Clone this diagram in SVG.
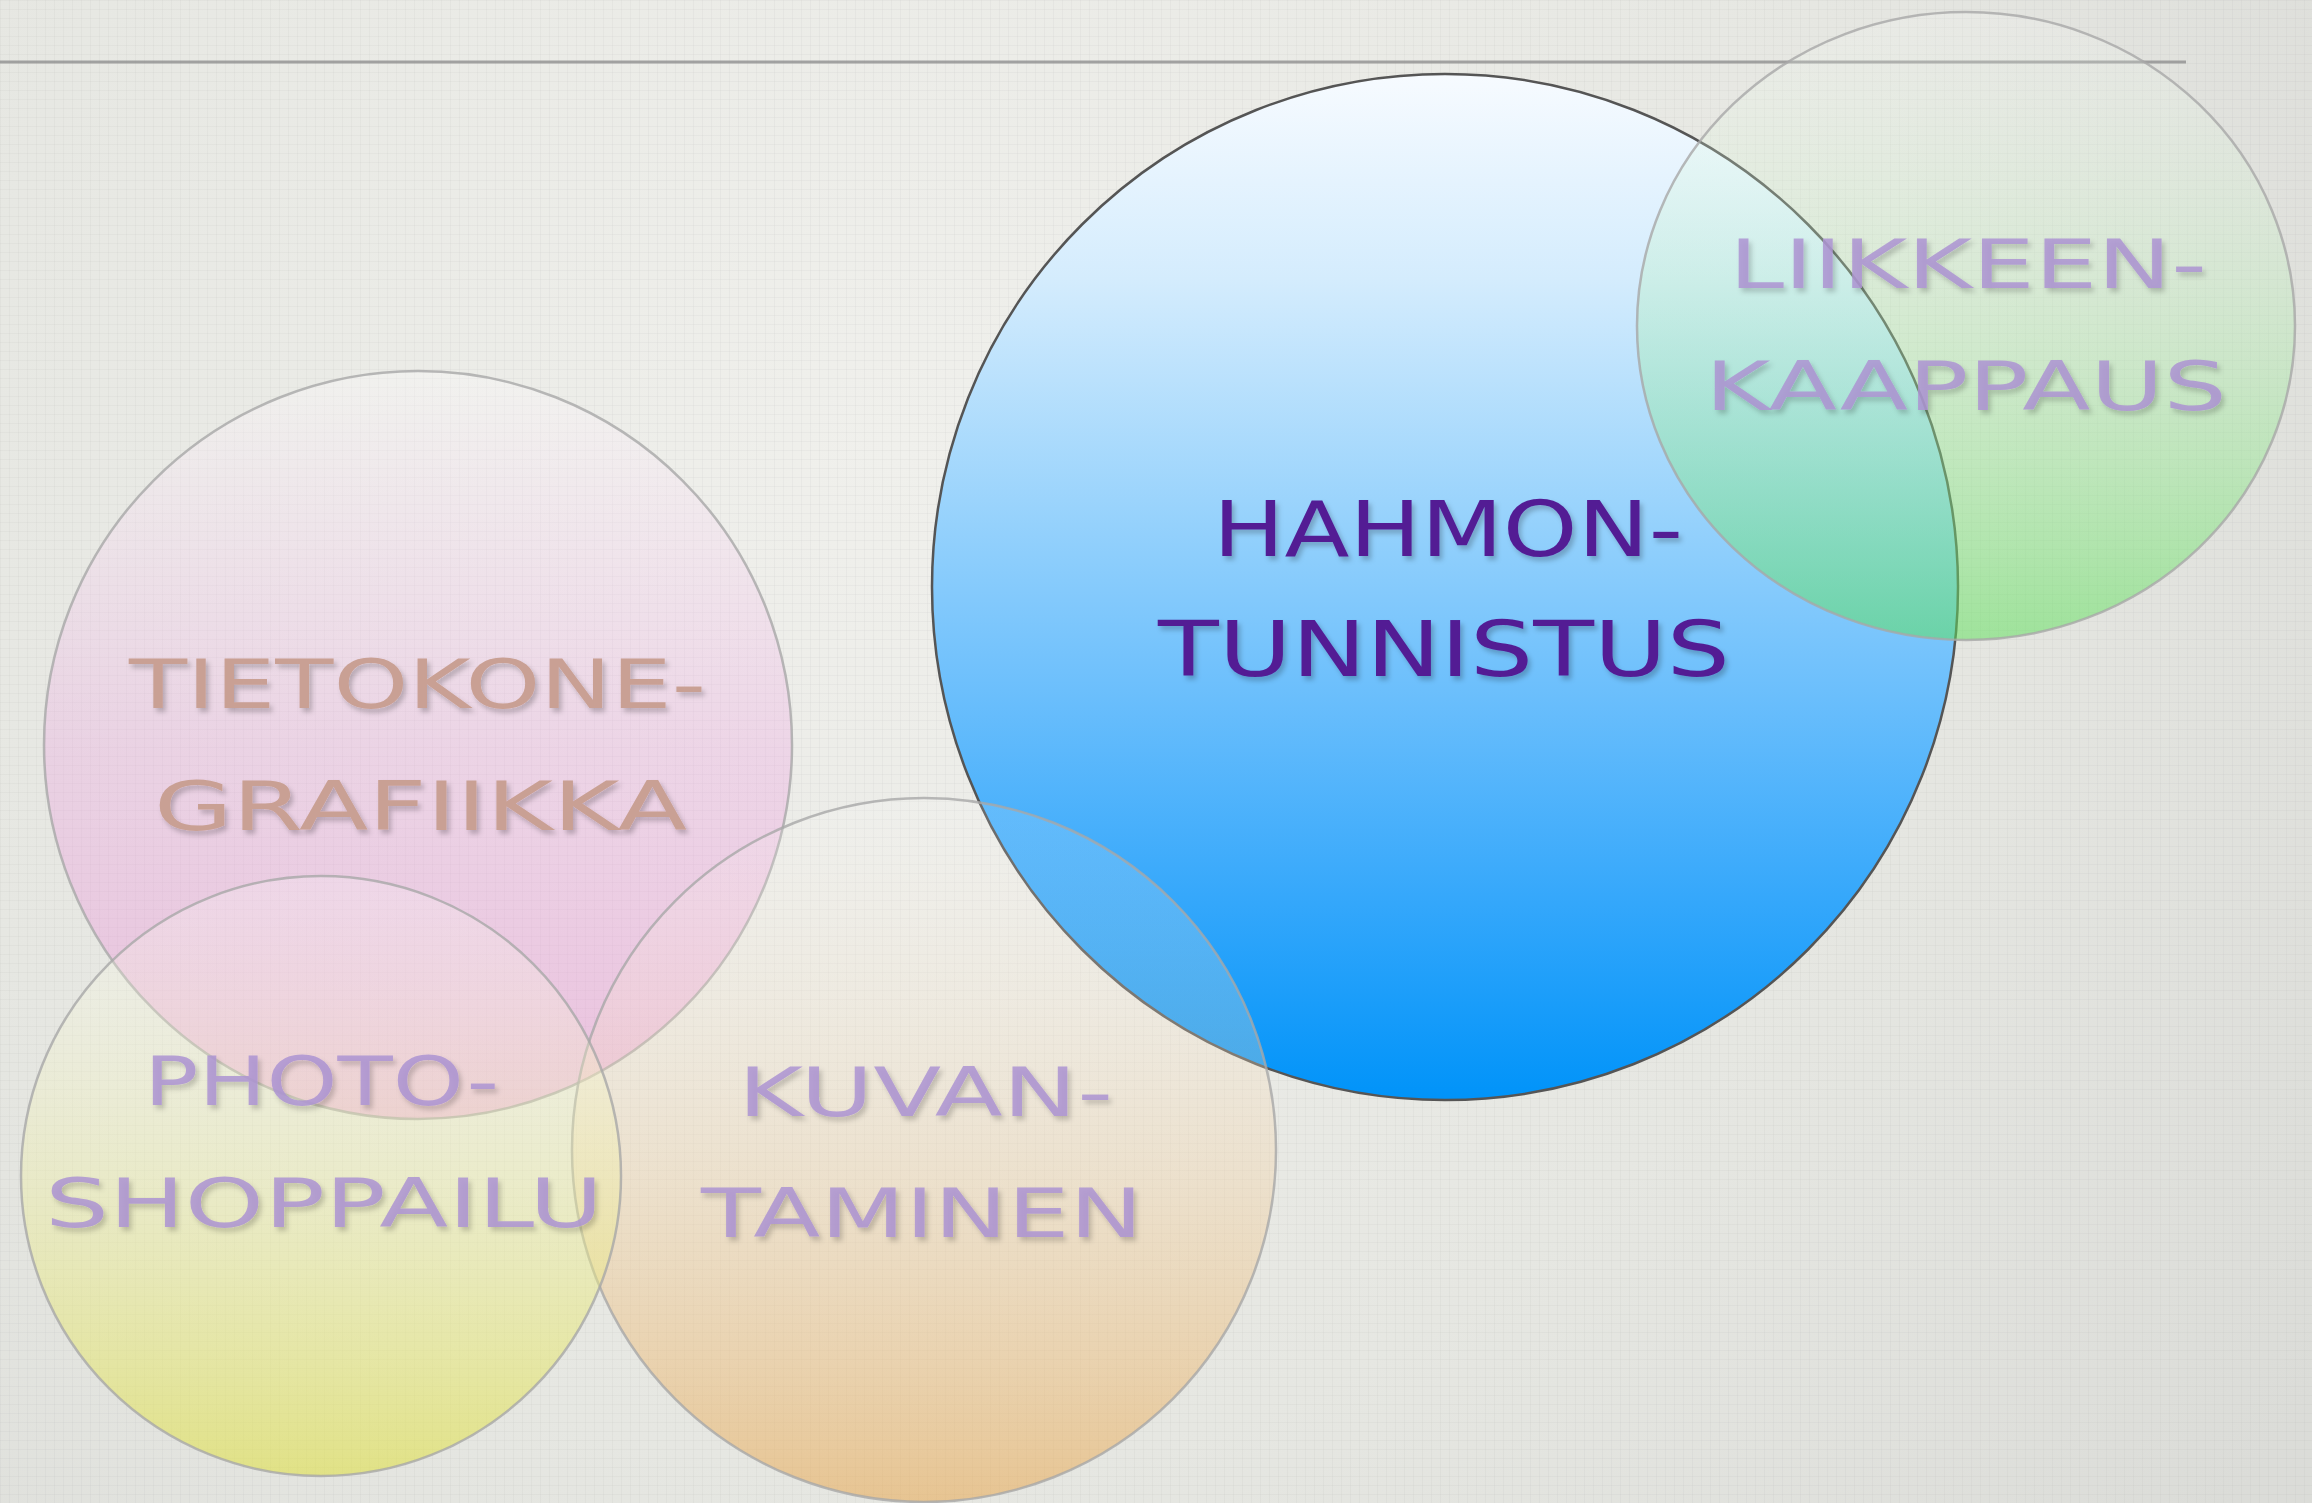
<svg xmlns="http://www.w3.org/2000/svg" width="2312" height="1503" viewBox="0 0 2312 1503">
  <defs>
    <radialGradient id="bgGrad" cx="900" cy="450" r="1700" gradientUnits="userSpaceOnUse">
      <stop offset="0" stop-color="#f0f0ec"/>
      <stop offset="0.6" stop-color="#e6e7e2"/>
      <stop offset="1" stop-color="#dbdcd8"/>
    </radialGradient>
    <pattern id="grid" width="9" height="9" patternUnits="userSpaceOnUse">
      <path d="M0 0.5 H9 M0.5 0 V9" stroke="#9a9c94" stroke-width="1" opacity="0.08" fill="none"/>
    </pattern>
    <linearGradient id="blueGrad" x1="0" y1="0" x2="0" y2="1">
      <stop offset="0" stop-color="#f7fbff"/>
      <stop offset="0.2" stop-color="#d4ecfd"/>
      <stop offset="0.45" stop-color="#92d0fc"/>
      <stop offset="0.6" stop-color="#6cbffc"/>
      <stop offset="0.8" stop-color="#36a8fb"/>
      <stop offset="1" stop-color="#0093f9"/>
    </linearGradient>
    <linearGradient id="greenGrad" x1="0" y1="0" x2="0" y2="1">
      <stop offset="0" stop-color="#ffffff" stop-opacity="0.15"/>
      <stop offset="1" stop-color="#5ee05a" stop-opacity="0.52"/>
    </linearGradient>
    <linearGradient id="pinkGrad" x1="0" y1="0" x2="0" y2="1">
      <stop offset="0" stop-color="#ffffff" stop-opacity="0.3"/>
      <stop offset="0.5" stop-color="#ee9ee2" stop-opacity="0.3"/>
      <stop offset="1" stop-color="#ec88d4" stop-opacity="0.42"/>
    </linearGradient>
    <linearGradient id="yellowGrad" x1="0" y1="0" x2="0" y2="1">
      <stop offset="0" stop-color="#ffffff" stop-opacity="0.2"/>
      <stop offset="1" stop-color="#dfe04a" stop-opacity="0.6"/>
    </linearGradient>
    <linearGradient id="orangeGrad" x1="0" y1="0" x2="0" y2="1">
      <stop offset="0" stop-color="#ffffff" stop-opacity="0.12"/>
      <stop offset="1" stop-color="#e8a850" stop-opacity="0.55"/>
    </linearGradient>
    <filter id="shadow" x="-10%" y="-30%" width="120%" height="160%">
      <feDropShadow dx="3" dy="4" stdDeviation="2.5" flood-color="#000000" flood-opacity="0.22"/>
    </filter>
  </defs>
  <style>
    .light { stroke: #a8a8a8; stroke-width: 2.5; stroke-opacity: 0.8; }
    .lbl { font-family: "DejaVu Sans", "Liberation Sans", sans-serif; filter: url(#shadow); }
    .big { font-size: 76px; fill: #521c94; }
    .small { font-size: 68px; }
    .rose { fill: #c9a094; }
    .lav { fill: #ad94d2; fill-opacity: 0.85; }
  </style>

  <rect x="0" y="0" width="2312" height="1503" fill="url(#bgGrad)"/>
  <rect x="0" y="0" width="2312" height="1503" fill="url(#grid)"/>
  <line x1="0" y1="62" x2="2186" y2="62" stroke="#8e8e8e" stroke-width="3" stroke-opacity="0.8"/>

  <g id="node-tietokonegrafiikka">
    <circle cx="418" cy="745" r="374" fill="url(#pinkGrad)" class="light"/>
  </g>
  <g id="node-hahmontunnistus">
    <circle cx="1445" cy="587" r="513" fill="url(#blueGrad)" stroke="#555555" stroke-width="2.5"/>
  </g>
  <g id="node-kuvantaminen">
    <circle cx="924" cy="1150" r="352" fill="url(#orangeGrad)" class="light"/>
  </g>
  <g id="node-photoshoppailu">
    <circle cx="321" cy="1176" r="300" fill="url(#yellowGrad)" class="light"/>
  </g>
  <g id="node-liikkeenkaappaus">
    <ellipse cx="1966" cy="326" rx="329" ry="314" fill="url(#greenGrad)" class="light"/>
  </g>

  <g id="labels">
    <text class="lbl big" x="1213" y="556" textLength="470" lengthAdjust="spacingAndGlyphs">HAHMON-</text>
    <text class="lbl big" x="1158" y="676" textLength="572" lengthAdjust="spacingAndGlyphs">TUNNISTUS</text>
    <text class="lbl small lav" x="1729" y="288" textLength="478" lengthAdjust="spacingAndGlyphs">LIIKKEEN-</text>
    <text class="lbl small lav" x="1705" y="410" textLength="522" lengthAdjust="spacingAndGlyphs">KAAPPAUS</text>
    <text class="lbl small rose" x="129" y="708" textLength="577" lengthAdjust="spacingAndGlyphs">TIETOKONE-</text>
    <text class="lbl small rose" x="154" y="830" textLength="533" lengthAdjust="spacingAndGlyphs">GRAFIIKKA</text>
    <text class="lbl small lav" x="144" y="1105" textLength="355" lengthAdjust="spacingAndGlyphs">PHOTO-</text>
    <text class="lbl small lav" x="45" y="1227" textLength="558" lengthAdjust="spacingAndGlyphs">SHOPPAILU</text>
    <text class="lbl small lav" x="738" y="1116" textLength="375" lengthAdjust="spacingAndGlyphs">KUVAN-</text>
    <text class="lbl small lav" x="701" y="1237" textLength="442" lengthAdjust="spacingAndGlyphs">TAMINEN</text>
  </g>
</svg>
